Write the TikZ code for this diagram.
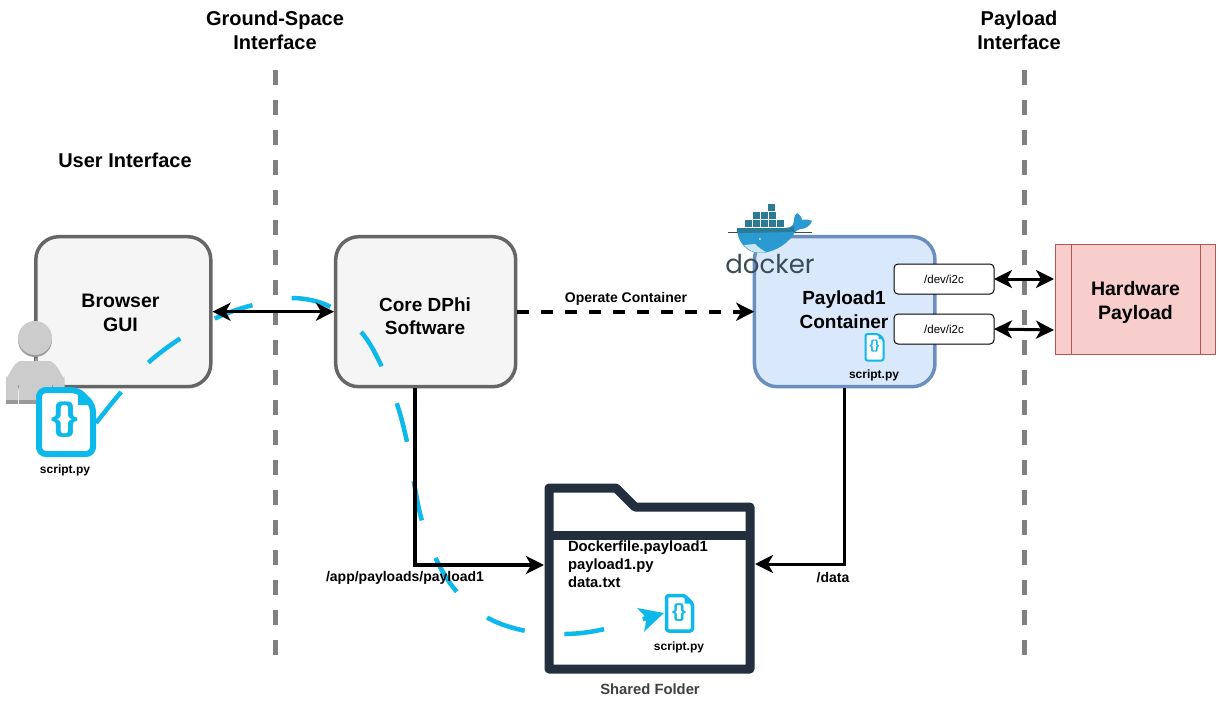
\documentclass[tikz,border=0pt]{standalone}
\usepackage{fontspec}
\setmainfont{Liberation Sans}
\newfontfamily\dockerfont{Poppins}
\usetikzlibrary{arrows.meta}
\definecolor{cyanline}{HTML}{0DB8EA}
\definecolor{guide}{HTML}{808080}
\definecolor{folderdark}{HTML}{232F3E}
\definecolor{boxgrey}{HTML}{666666}
\definecolor{boxfill}{HTML}{F5F5F5}
\definecolor{bluefill}{HTML}{DAE8FC}
\definecolor{bluestroke}{HTML}{6C8EBF}
\definecolor{redfill}{HTML}{F8CECC}
\definecolor{redstroke}{HTML}{B85450}
\definecolor{dockerdark}{HTML}{394D54}
\definecolor{dockerblue}{HTML}{2A9AD0}
\definecolor{dockerteal}{HTML}{2B7A96}
\definecolor{persongrey}{HTML}{CCCCCC}
\definecolor{persondark}{HTML}{999999}
\tikzset{
  every node/.style={font=\bfseries, inner sep=0pt, outer sep=0pt, align=center},
  title/.style={font=\bfseries\fontsize{20}{24}\selectfont},
  boxlabel/.style={font=\bfseries\fontsize{19.5}{24}\selectfont},
  small/.style={font=\bfseries\fontsize{14}{18}\selectfont},
  tiny/.style={font=\bfseries\fontsize{12}{14}\selectfont},
  softbox/.style={draw=boxgrey, fill=boxfill, line width=3.5pt, rounded corners=23pt, minimum width=175pt, minimum height=150pt, outer sep=1.75pt},
  guideline/.style={draw=guide, line width=5.5pt, dash pattern=on 15pt off 15pt},
  tipA/.tip={Stealth[length=18pt,width=18pt,inset=5pt]},
  blackarrow/.style={draw=black, line width=3.5pt, -{tipA}},
  devbox/.style={draw=black, fill=white, line width=1pt, rounded corners=4pt, minimum width=100pt, minimum height=30pt, font=\fontsize{11.5}{14}\selectfont\mdseries},
  doc/.style={draw=cyanline, fill=white, line join=round},
}
\newcommand{\docicon}[7]{% x0 y0 x1 y1 line-width fold radius
  \draw[doc, line width=#5pt, rounded corners=#7pt] (#1,#2) -- ({#3-#6},#2) -- (#3,{#2+#6}) -- (#3,#4) -- (#1,#4) -- cycle;
  \fill[cyanline] ({#3-#6},#2) -- (#3,{#2+#6}) -- ({#3-#6},{#2+#6}) -- cycle;
}
\begin{document}
\begin{tikzpicture}[x=1pt,y=-1pt]
\useasboundingbox (0,0) rectangle (1221,704);
\fill[white] (0,0) rectangle (1221,704);

% guides
\coordinate (g1a) at (275.5,70); \coordinate (g1b) at (275.5,656);
\coordinate (g2a) at (1024.5,70); \coordinate (g2b) at (1024.5,656);
\draw[guideline] (g1a) -- (g1b);
\draw[guideline] (g2a) -- (g2b);

% titles
\node[title] (t1) at (275,30) {Ground-Space\\Interface};
\node[title] (t2) at (1019,30) {Payload\\Interface};
\node[title] (t3) at (125,160) {User Interface};

% boxes
\node[softbox] (browser) at (123.3,311.7) {};
\node[softbox, minimum width=180pt] (core) at (425.7,311.7) {};
\node[softbox, draw=bluestroke, fill=bluefill, minimum width=180.5pt] (payload) at (844.7,311.7) {};

% hardware
\node[draw=redstroke, fill=redfill, line width=1pt, minimum width=160.5pt, minimum height=110pt] (hw) at (1135.7,299.3) {};
\draw[redstroke, line width=1pt] (1071.7,244.3) -- (1071.7,354.3) (1200,244.3) -- (1200,354.3);
\node[boxlabel] (hwt) at (1135.5,302) {Hardware\\Payload};

% folder
\draw[folderdark, line width=9pt, line join=round] (549,488) -- (616,488) -- (635,507) -- (750,507) -- (750,669) -- (549,669) -- cycle;
\draw[folderdark, line width=9pt] (549,535.5) -- (750,535.5);
\coordinate (folderL) at (544,565);
\coordinate (folderR) at (755,564);

% person
\fill[persondark] (35,358) rectangle (36.5,362);
\fill[persondark] (35,340) circle (17pt);
\fill[persongrey] (35,338) circle (17pt);
\fill[persongrey] (6,403) -- (6,376) to[out=-90,in=180] (21,361) -- (49,361) to[out=0,in=-90] (64.5,376) -- (64.5,403) -- cycle;
\fill[persondark] (6,400) rectangle (64.5,403.5);
\draw[white!85!gray, line width=1pt] (18.5,390) -- (18.5,404) (52.5,390) -- (52.5,404);
\draw[persondark, line width=1pt] (18.5,385) -- (18.5,388) (52.5,385) -- (52.5,388);

% script icons
\docicon{39}{390}{93}{454}{6}{15}{7}
\node[font=\bfseries\fontsize{38}{38}\selectfont, text=cyanline] (br1) at (65,420) {\{\kern-3pt\}};
\coordinate (s1) at (96,423);
\node[tiny] (l1) at (65,470) {script.py};

% blue dashed connector
\coordinate (s2) at (664,613);
\draw[cyanline, line width=4.5pt, dash pattern=on 40pt off 40pt, -{Stealth[length=24pt,width=24pt,inset=6pt]}]
  plot[smooth, tension=0.6] coordinates {(s1) (122,391) (149,362) (181,338) (216,318) (253,305) (293,298) (331,307) (362,333) (382,367) (397,404) (407,442) (414,483) (422,521) (436,559) (457,592) (488,618) (526,631) (566,634) (605,629) (s2)};

\docicon{666.5}{595.5}{692.5}{631}{3.5}{8}{2.5}
\node[font=\bfseries\fontsize{19}{19}\selectfont, text=cyanline] (br2) at (679,613) {\{\kern-1pt\}};
\node[tiny] (l2) at (679,647) {script.py};

% main connectors
\draw[blackarrow, {tipA}-{tipA}] (browser.east) -- (core.west);
\draw[blackarrow, line width=4pt, dash pattern=on 12pt off 12pt] (core.east) -- ([xshift=1.5pt]payload.west);
\draw[blackarrow] (core.south) ++(-10.7,0) coordinate (cd) -- (415,565) -- (folderL);
\draw[blackarrow, line width=3pt] (payload.south) -- (844.7,564) -- (folderR);

% box labels
\node[boxlabel] (bt) at (120.5,313) {Browser\\GUI};
\node[boxlabel, font=\bfseries\fontsize{19}{23}\selectfont] (ct) at (425,316.5) {Core DPhi\\Software};
\node[boxlabel, font=\bfseries\fontsize{19}{24}\selectfont] (pt) at (844,310) {Payload1\\Container};

% dev boxes
\node[devbox] (d1) at (944,279) {/dev/i2c};
\node[devbox] (d2) at (944,329) {/dev/i2c};
\coordinate (h1) at (1054,279);
\coordinate (h2) at (1054,330);
\draw[draw=black, line width=3pt, {tipA}-{tipA}] (d1.east) -- (h1);
\draw[draw=black, line width=3pt, {tipA}-{tipA}] (d2.east) -- (h2);

% payload script
\docicon{865.5}{334}{883.5}{360.5}{2}{5}{2}
\node[font=\bfseries\fontsize{13}{13}\selectfont, text=cyanline] (br3) at (874.5,346.5) {\{\kern-0.5pt\}};
\node[tiny] (l3) at (874,375) {script.py};

% labels
\node[small] (op) at (626,299) {Operate Container};
\node[small] (ap) at (405,578) {/app/payloads/payload1};
\node[small] (da) at (833,578) {/data};
\node[small, align=left, anchor=north west, font=\bfseries\fontsize{14.8}{18}\selectfont] (files) at (568,540.5) {Dockerfile.payload1\\payload1.py\\data.txt};
\node[small, text=black!75, font=\bfseries\fontsize{14.8}{18}\selectfont] (sf) at (650,689) {Shared Folder};

% docker logo
\draw[dockerdark, line width=0.7pt] (728,232.5) -- (812,232.5);
\foreach \x in {768}{\fill[dockerteal] (\x,204) rectangle ++(7.4,7.4);}
\foreach \x in {752.5,760.5,768.5}{\fill[dockerteal] (\x,212) rectangle ++(7.4,7.4);}
\foreach \x in {744.5,752.5,760.5,768.5,776.5}{\fill[dockerteal] (\x,220) rectangle ++(7.4,7.4);}
\fill[dockerblue] (737,228) -- (786,228) .. controls (792,228) and (794,224) .. (794,220) .. controls (794,216) and (796,214) .. (797,213) .. controls (800,215) and (802,218) .. (802,220) .. controls (806,219) and (810,220) .. (812,221) .. controls (810,226) and (806,229) .. (800,229) .. controls (798,230) and (796,231) .. (795,232) .. controls (790,242) and (775,253) .. (760,253) .. controls (746,253) and (737,241) .. (737,228) -- cycle;
\fill[dockerteal] (737,228) -- (786,228) .. controls (790,228) and (792,227) .. (793,226) -- (795,232) -- (737,233) -- cycle;
\fill[white!75!dockerblue] (744,245) -- (755,244) .. controls (758,247) and (762,250) .. (766,252) .. controls (758,254) and (750,252) .. (744,245) -- cycle;
\fill[white] (760,239) circle (1.2pt);
\fill[dockerdark] (760,239) circle (0.5pt);
\node[font=\dockerfont\mdseries\fontsize{26}{26}\selectfont, text=dockerdark] (dk) at (770,263.5) {docker};
\end{tikzpicture}
\end{document}
